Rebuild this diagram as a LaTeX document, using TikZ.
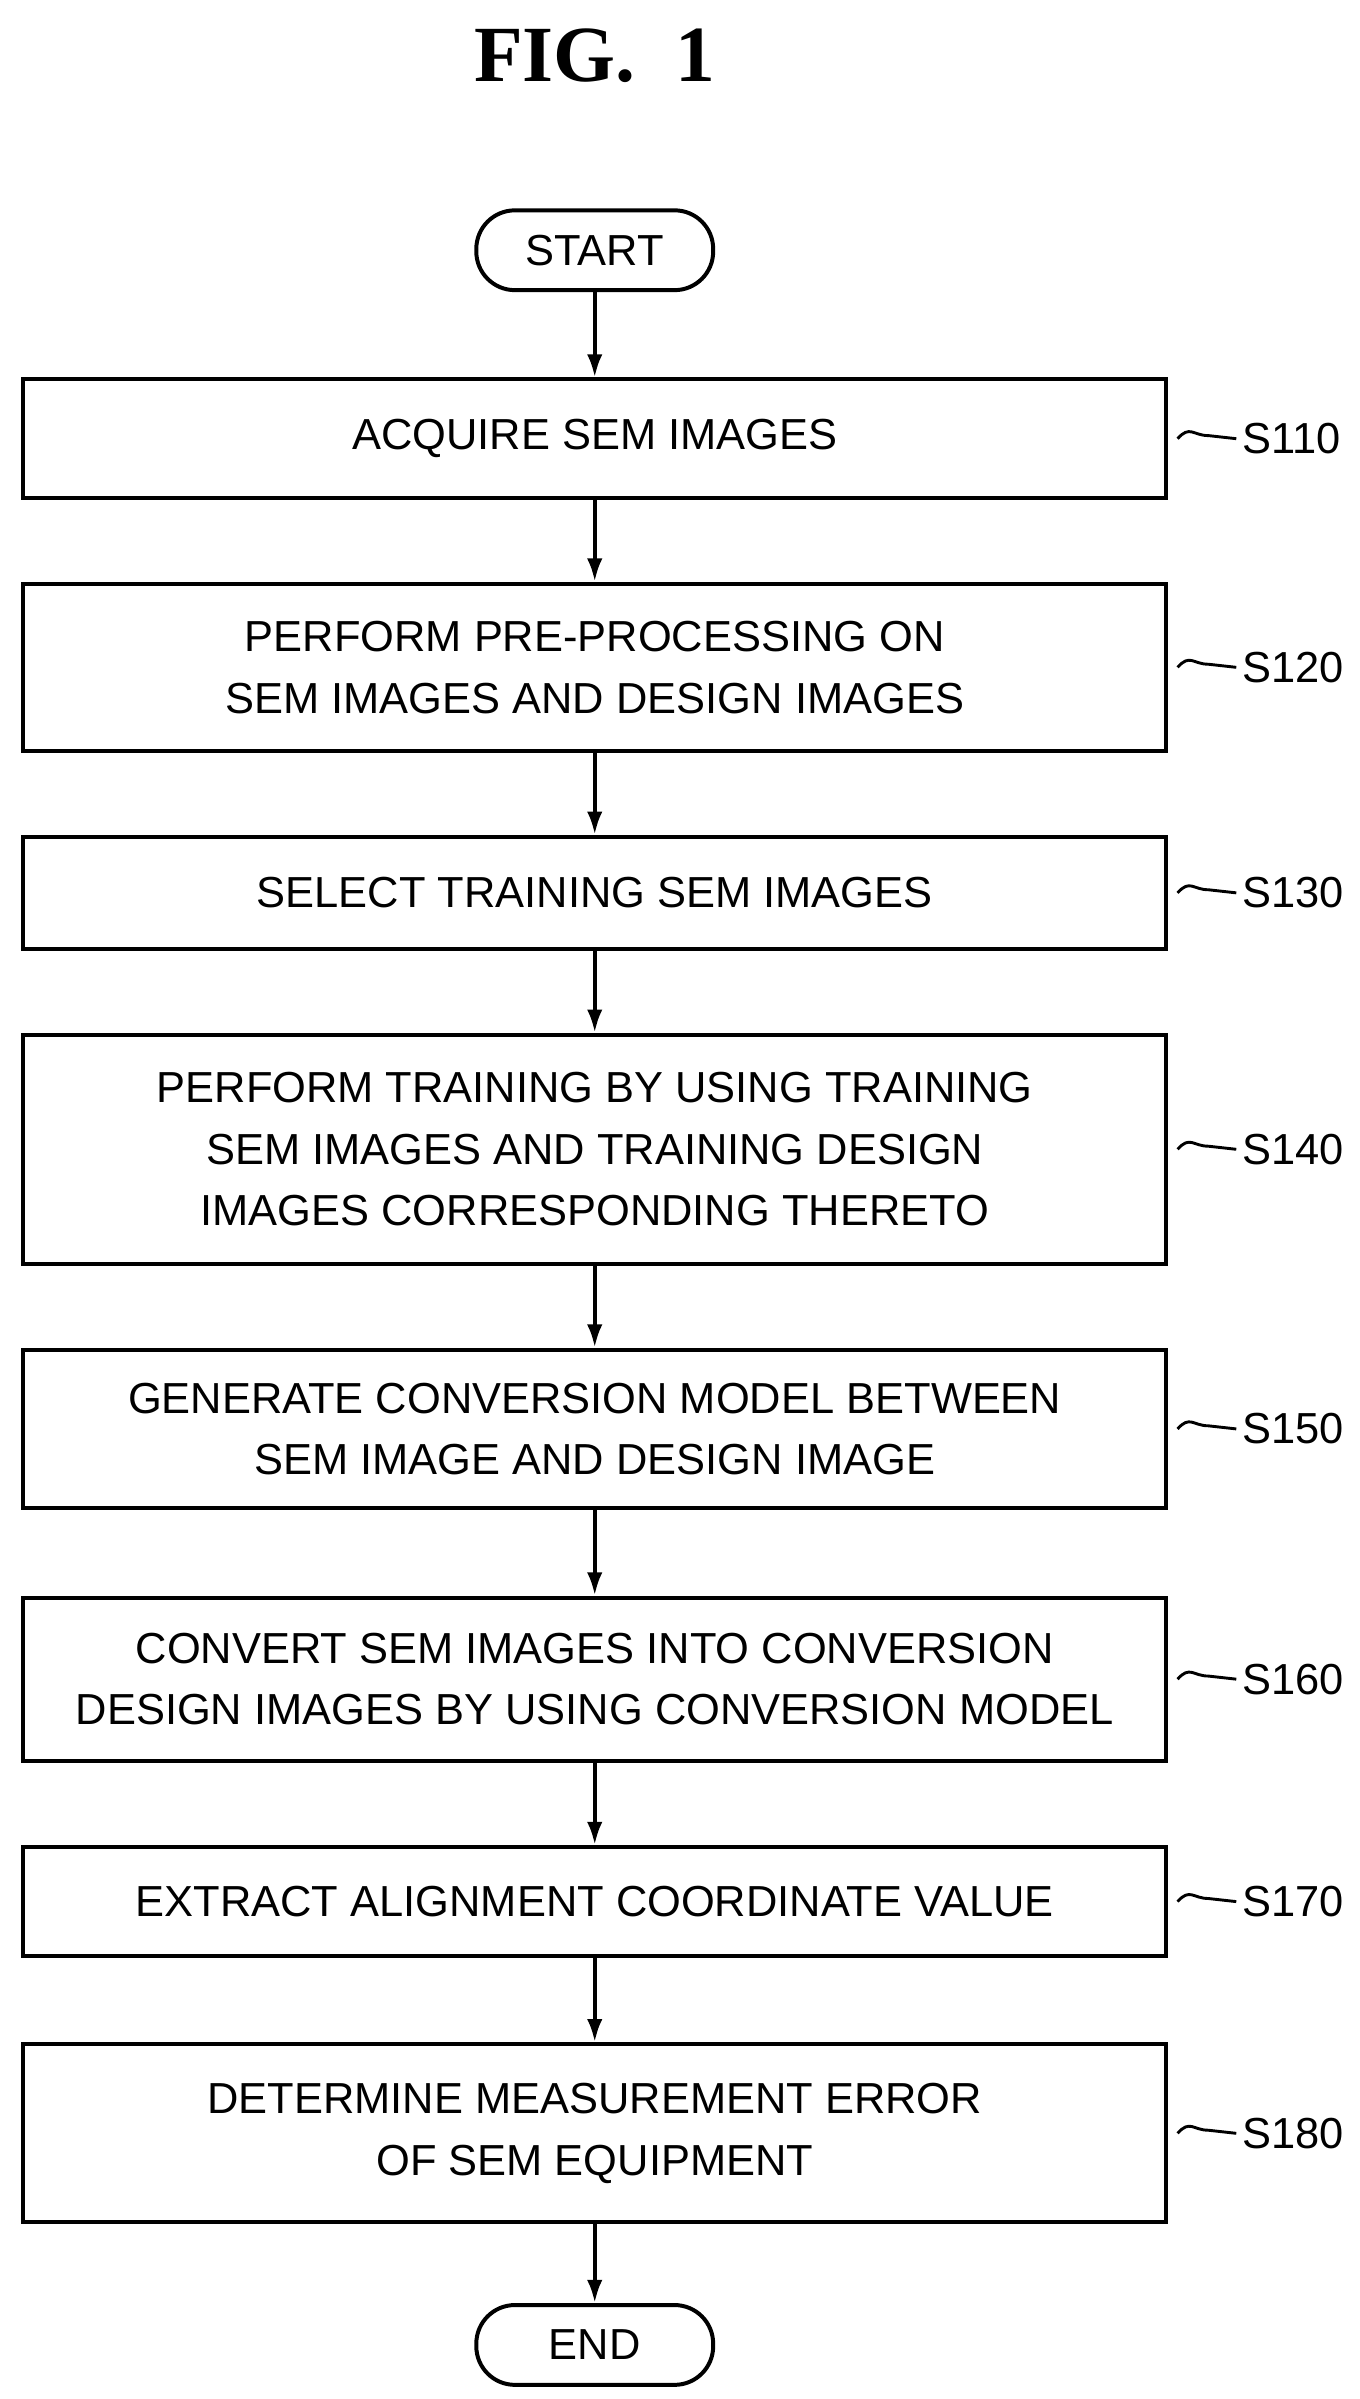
\documentclass[tikz,border=0pt]{standalone}
\usepackage{fontspec}
\setmainfont{Liberation Serif}
\setsansfont{Liberation Sans}
\usetikzlibrary{positioning,calc,arrows.meta}

\begin{document}
\begin{tikzpicture}[x=0.03cm,y=-0.03cm,
  stepbox/.style={draw,line width=2.2pt,minimum width=22.2cm,align=center,
    font=\sffamily\fontsize{24}{34}\selectfont,inner sep=0pt},
  term/.style={draw,line width=2.2pt,rounded corners=0.75cm,minimum width=4.6cm,
    minimum height=1.55cm,font=\sffamily\fontsize{24}{30}\selectfont},
  arr/.style={-{Latex[length=0.45cm,width=0.3cm]},line width=2.2pt},
  tag/.style={font=\sffamily\fontsize{24}{30}\selectfont,anchor=west}]
  \useasboundingbox (0,0) rectangle (880,1553);

  % title
  \node[font=\bfseries\fontsize{44}{50}\selectfont] (title) at (385,36) {FIG.\ \ 1};

  % terminals
  \node[term] (start) at (385,162) {START};
  \node[term] (end) at (385,1518) {END};

  % steps
  \node[stepbox,minimum height=2.3cm] (s110) at (385,284) {ACQUIRE SEM IMAGES};
  \node[stepbox,minimum height=3.25cm] (s120) at (385,432) {PERFORM PRE-PROCESSING ON\\SEM IMAGES AND DESIGN IMAGES};
  \node[stepbox,minimum height=2.18cm] (s130) at (385,578) {SELECT TRAINING SEM IMAGES};
  \node[stepbox,minimum height=4.45cm] (s140) at (385,744) {PERFORM TRAINING BY USING TRAINING\\SEM IMAGES AND TRAINING DESIGN\\IMAGES CORRESPONDING THERETO};
  \node[stepbox,minimum height=3.08cm] (s150) at (385,925) {GENERATE CONVERSION MODEL BETWEEN\\SEM IMAGE AND DESIGN IMAGE};
  \node[stepbox,minimum height=3.17cm] (s160) at (385,1087) {CONVERT SEM IMAGES INTO CONVERSION\\DESIGN IMAGES BY USING CONVERSION MODEL};
  \node[stepbox,minimum height=2.12cm] (s170) at (385,1231) {EXTRACT ALIGNMENT COORDINATE VALUE};
  \node[stepbox,minimum height=3.46cm] (s180) at (385,1381) {DETERMINE MEASUREMENT ERROR\\OF SEM EQUIPMENT};

  % arrows
  \draw[arr] (start) -- (s110);
  \draw[arr] (s110) -- (s120);
  \draw[arr] (s120) -- (s130);
  \draw[arr] (s130) -- (s140);
  \draw[arr] (s140) -- (s150);
  \draw[arr] (s150) -- (s160);
  \draw[arr] (s160) -- (s170);
  \draw[arr] (s170) -- (s180);
  \draw[arr] (s180) -- (end);

  % step labels
  \foreach \s/\t in {s110/S110,s120/S120,s130/S130,s140/S140,s150/S150,s160/S160,s170/S170,s180/S180}{
    \coordinate (\s-a) at ($(\s.east)+(6,0)$);
    \node[tag] (\s-l) at ($(\s.east)+(44,0)$) {\t};
    \draw[line width=1.6pt] (\s-a) .. controls +(8,-9) and +(-10,0) .. ($(\s-a)+(20,-2)$) -- (\s-l.west);
  }
\end{tikzpicture}
\end{document}
